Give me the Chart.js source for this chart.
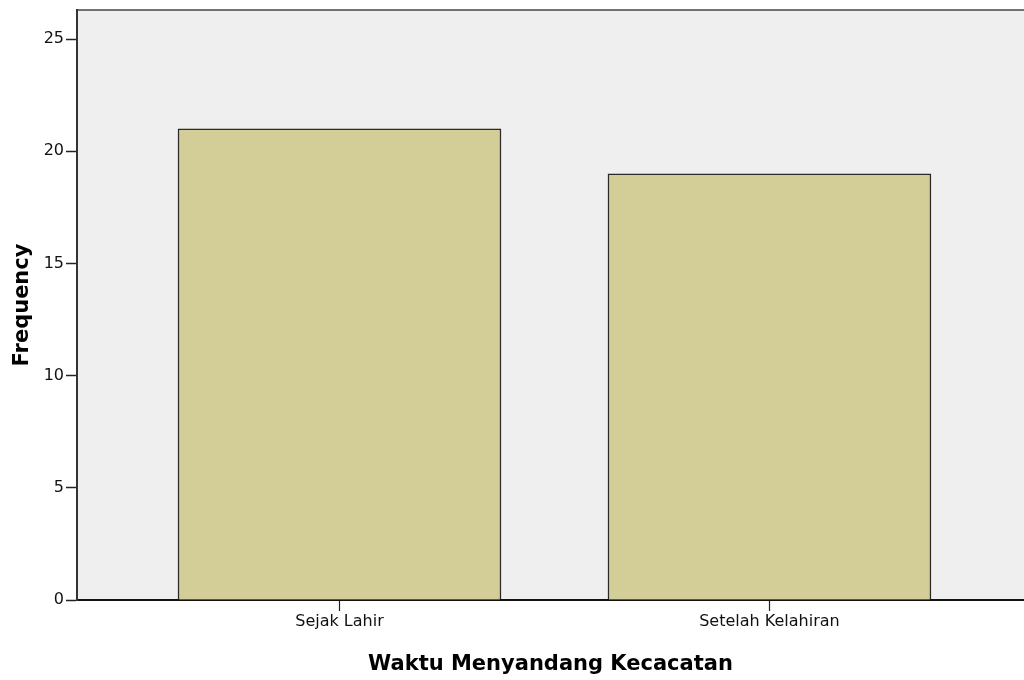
<!DOCTYPE html>
<html>
<head>
<meta charset="utf-8">
<script src="https://cdn.jsdelivr.net/npm/chart.js@4"></script>
<style>
  html, body { margin: 0; padding: 0; background: #fff; }
  #wrap { width: 1024px; height: 680px; }
</style>
</head>
<body>
<div id="wrap"><canvas id="freqChart"></canvas></div>
<script>
// data
const categories = ["Sejak Lahir", "Setelah Kelahiran"];
const frequencies = [21, 19];
const yTicks = [0, 5, 10, 15, 20, 25];

// grey plot background + top frame line
const plotBg = {
  id: 'plotBg',
  beforeDraw(chart) {
    const { ctx, chartArea: a } = chart;
    ctx.save();
    ctx.fillStyle = '#efefef';
    ctx.fillRect(a.left, a.top, a.right - a.left, a.bottom - a.top);
    ctx.strokeStyle = '#444';
    ctx.lineWidth = 1.5;
    ctx.beginPath();
    ctx.moveTo(a.left, a.top);
    ctx.lineTo(a.right, a.top);
    ctx.stroke();
    ctx.restore();
  }
};

new Chart(document.getElementById('freqChart'), {
  type: 'bar',
  data: {
    datasets: [{
      data: frequencies.map((v, i) => ({ x: i + 1, y: v })),
      backgroundColor: '#d3ce97',
      borderColor: '#2a2a2a',
      borderWidth: 1.5,
      barThickness: 323
    }]
  },
  options: {
    responsive: true,
    maintainAspectRatio: false,
    animation: false,
    layout: { padding: { top: 10, right: 0, left: 0, bottom: 0 } },
    plugins: { legend: { display: false }, tooltip: { enabled: false } },
    scales: {
      x: {
        type: 'linear',
        offset: false,
        min: 0.3895,
        max: 2.592,
        afterBuildTicks: s => { s.ticks = categories.map((c, i) => ({ value: i + 1 })); },
        afterFit: s => { s.height = 80; s.paddingLeft = 0; s.paddingRight = 0; },
        ticks: {
          callback: v => categories[v - 1],
          color: '#111',
          font: { family: 'DejaVu Sans', size: 16 },
          padding: 1,
          maxRotation: 0
        },
        grid: { offset: false, drawOnChartArea: false, tickLength: 11, color: '#222', tickWidth: 1.2 },
        border: { display: true, color: '#111', width: 2 },
        title: {
          display: true,
          text: 'Waktu Menyandang Kecacatan',
          color: '#000',
          font: { family: 'DejaVu Sans', size: 21, weight: 'bold' },
          padding: { top: 4, bottom: 3 }
        }
      },
      y: {
        min: 0,
        max: 26.3,
        afterBuildTicks: s => { s.ticks = yTicks.map(v => ({ value: v })); },
        afterFit: s => { s.width = 77; s.paddingTop = 0; s.paddingBottom = 0; },
        ticks: {
          color: '#111',
          font: { family: 'DejaVu Sans', size: 16 },
          padding: 2
        },
        grid: { drawOnChartArea: false, tickLength: 11, color: '#222', tickWidth: 1.5 },
        border: { display: true, color: '#333', width: 2 },
        title: {
          display: true,
          text: 'Frequency',
          color: '#000',
          font: { family: 'DejaVu Sans', size: 21, weight: 'bold' },
          padding: { top: 10, bottom: 4 }
        }
      }
    }
  },
  plugins: [plotBg]
});
</script>
</body>
</html>
